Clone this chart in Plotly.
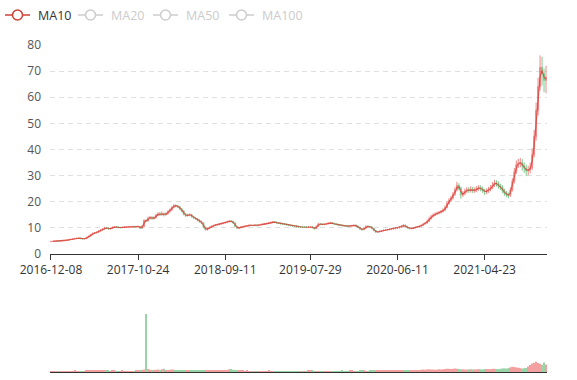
import plotly.graph_objects as go
import pandas as pd

W, H = 577, 380

# Weekly samples (about 5 trading days each)
close = [4.8, 4.9, 4.9, 5.0, 4.9, 5.0, 5.1, 5.1, 5.3, 5.5, 5.6, 5.8, 5.9, 6.0,
         6.1, 5.9, 5.8, 5.9, 6.4, 6.8,
         7.4, 7.9, 8.1, 8.3, 8.8, 9.2, 9.6, 10.0,
         9.9, 9.6, 9.8, 10.2, 10.4, 10.3, 10.1, 10.1, 10.2,
         10.3, 10.3, 10.4, 10.4, 10.5, 10.4, 10.5, 10.5, 9.9,
         10.6, 12.9, 12.6, 13.7, 14.0, 13.6, 13.9, 14.8, 15.4, 15.0, 15.5, 15.0, 15.4, 16.2, 16.8, 17.8, 18.6,
         18.4, 18.1, 17.3, 16.5, 15.2, 14.7, 14.9, 15.1, 14.3, 13.8, 13.5, 12.9, 12.4, 11.9, 10.2, 9.3, 9.8, 10.2,
         10.6, 10.9, 11.2, 11.3, 11.5, 11.7, 11.9, 12.1, 12.4, 12.6, 12.5, 11.9, 10.6, 9.9, 10.1, 10.4, 10.5, 10.7, 10.8, 11.0,
         11.0, 10.9, 11.1, 10.9, 11.1, 11.3, 11.4, 11.6, 11.7, 11.9, 12.1, 12.3, 12.1, 11.9, 11.8, 11.6, 11.5, 11.4, 11.2, 11.0, 10.9, 10.8, 10.7, 10.5, 10.4,
         10.4, 10.3, 10.3, 10.2, 10.4, 10.4, 10.1, 9.7, 10.6, 11.5, 11.4, 11.3, 11.4, 11.6, 11.8, 11.9, 11.7, 11.5, 11.3, 11.1,
         11.0, 10.9, 10.8, 10.7, 10.6, 10.8, 10.9, 11.0, 10.7, 10.2, 9.6, 9.3, 9.9, 10.6, 10.5, 10.4, 9.8, 9.0, 8.4, 8.5,
         8.7, 8.9, 9.1, 9.2, 9.3, 9.5, 9.6, 9.7, 9.9, 10.0, 10.3, 10.7, 11.0, 10.5, 10.0, 9.7, 9.8, 10.0, 10.2, 10.4, 10.6, 11.0, 11.5, 11.9,
         12.6, 13.6, 14.4, 14.9, 15.3, 15.6, 15.9, 16.3, 16.8, 17.8, 19.4, 20.5, 21.3, 22.8, 24.5, 26.3, 25.2, 22.6, 23.2, 24.0, 24.6,
         24.3, 24.8, 24.2, 24.5, 25.0, 25.4, 24.9, 24.3, 23.7, 24.2, 24.7, 25.4, 26.4, 27.3, 26.8, 26.0, 25.5, 24.2, 23.2, 22.6, 22.4, 24.5, 27.8, 31.5, 34.2,
         34.8, 35.0, 33.6, 32.8, 31.8, 32.2, 33.0, 38.0, 45.0, 55.0, 64.0, 71.5, 69.0, 66.4, 67.7]

open_ = [4.7, 4.8, 4.9, 4.9, 5.0, 4.9, 5.0, 5.1, 5.1, 5.3, 5.5, 5.6, 5.8, 5.9,
         6.0, 6.1, 5.9, 5.8, 5.9, 6.4,
         6.8, 7.4, 7.9, 8.1, 8.3, 8.8, 9.2, 9.6,
         10.0, 9.9, 9.6, 9.8, 10.2, 10.4, 10.3, 10.1, 10.1,
         10.2, 10.3, 10.3, 10.4, 10.4, 10.5, 10.4, 10.5, 10.5,
         9.9, 10.6, 12.9, 12.6, 13.7, 14.0, 13.6, 13.9, 14.8, 15.4, 15.0, 15.5, 15.0, 15.4, 16.2, 16.8, 17.8,
         18.6, 18.4, 18.1, 17.3, 16.5, 15.2, 14.7, 14.9, 15.1, 14.3, 13.8, 13.5, 12.9, 12.4, 11.9, 10.2, 9.3, 9.8,
         10.2, 10.6, 10.9, 11.2, 11.3, 11.5, 11.7, 11.9, 12.1, 12.4, 12.6, 12.5, 11.9, 10.6, 9.9, 10.1, 10.4, 10.5, 10.7, 10.8,
         11.0, 11.0, 10.9, 11.1, 10.9, 11.1, 11.3, 11.4, 11.6, 11.7, 11.9, 12.1, 12.3, 12.1, 11.9, 11.8, 11.6, 11.5, 11.4, 11.2, 11.0, 10.9, 10.8, 10.7, 10.5,
         10.4, 10.4, 10.3, 10.3, 10.2, 10.4, 10.4, 10.1, 9.7, 10.6, 11.5, 11.4, 11.3, 11.4, 11.6, 11.8, 11.9, 11.7, 11.5, 11.3,
         11.1, 11.0, 10.9, 10.8, 10.7, 10.6, 10.8, 10.9, 11.0, 10.7, 10.2, 9.6, 9.3, 9.9, 10.6, 10.5, 10.4, 9.8, 9.0, 8.4,
         8.5, 8.7, 8.9, 9.1, 9.2, 9.3, 9.5, 9.6, 9.7, 9.9, 10.0, 10.3, 10.7, 11.0, 10.5, 10.0, 9.7, 9.8, 10.0, 10.2, 10.4, 10.6, 11.0, 11.5,
         11.9, 12.6, 13.6, 14.4, 14.9, 15.3, 15.6, 15.9, 16.3, 16.8, 17.8, 19.4, 20.5, 21.3, 22.8, 24.5, 26.3, 25.2, 22.6, 23.2, 24.0,
         24.6, 24.3, 24.8, 24.2, 24.5, 25.0, 25.4, 24.9, 24.3, 23.7, 24.2, 24.7, 25.4, 26.4, 27.3, 26.8, 26.0, 25.5, 24.2, 23.2, 22.6, 22.4, 24.5, 27.8, 31.5,
         34.2, 34.8, 35.0, 33.6, 32.8, 31.8, 32.2, 33.0, 38.0, 45.0, 55.0, 64.0, 71.5, 69.0, 66.4]

high = [4.9, 5.0, 5.1, 5.1, 5.1, 5.2, 5.2, 5.3, 5.4, 5.7,
        5.8, 5.9, 6.1, 6.2, 6.3, 6.2, 6.0, 6.1, 6.6, 7.0,
        7.7, 8.2, 8.4, 8.6, 9.1, 9.5, 9.9, 10.4, 10.3, 10.1,
        10.1, 10.5, 10.7, 10.7, 10.6, 10.4, 10.5, 10.6, 10.6, 10.7,
        10.7, 10.8, 10.8, 10.8, 10.9, 10.7, 11.0, 13.2, 13.3, 14.3,
        14.6, 14.5, 14.4, 15.4, 16.0, 16.1, 16.3, 15.9, 15.9, 16.7,
        17.4, 18.3, 19.1, 19.0, 18.8, 18.4, 17.6, 16.8, 15.6, 15.4,
        15.5, 15.4, 14.6, 14.2, 13.8, 13.3, 12.8, 12.1, 10.5, 10.1,
        10.5, 10.9, 11.2, 11.5, 11.6, 11.8, 12.0, 12.2, 12.4, 12.7,
        12.9, 12.9, 12.7, 12.1, 10.8, 10.4, 10.7, 10.8, 11.0, 11.1,
        11.3, 11.3, 11.2, 11.4, 11.3, 11.4, 11.6, 11.7, 11.9, 12.0,
        12.2, 12.4, 12.6, 12.6, 12.4, 12.2, 12.1, 11.9, 11.8, 11.7,
        11.5, 11.3, 11.2, 11.1, 11.0, 10.8, 10.7, 10.7, 10.6, 10.6,
        10.7, 10.7, 10.7, 10.3, 10.9, 11.9, 11.8, 11.7, 11.7, 11.9,
        12.1, 12.3, 12.2, 12.0, 11.8, 11.6, 11.4, 11.3, 11.2, 11.1,
        11.0, 11.1, 11.2, 11.3, 11.3, 10.9, 10.4, 9.8, 10.2, 10.9,
        10.9, 10.8, 10.6, 10.0, 9.2, 8.8, 9.0, 9.2, 9.4, 9.5,
        9.6, 9.8, 9.9, 10.0, 10.2, 10.3, 10.6, 11.0, 11.4, 11.3,
        10.8, 10.2, 10.1, 10.3, 10.5, 10.7, 10.9, 11.3, 11.9, 12.3,
        13.2, 14.2, 15.0, 15.5, 15.9, 16.2, 16.5, 16.9, 17.5, 18.6,
        20.2, 21.4, 22.2, 23.7, 25.5, 27.6, 27.1, 25.8, 24.1, 25.0,
        25.6, 25.6, 25.9, 25.7, 25.5, 26.0, 26.4, 26.3, 25.8, 25.0,
        25.1, 25.7, 26.4, 27.5, 28.4, 28.2, 27.8, 26.9, 26.3, 25.0,
        24.1, 23.5, 25.5, 29.0, 32.9, 35.8, 36.4, 36.8, 36.3, 35.0,
        34.2, 33.8, 35.0, 40.5, 47.5, 58.0, 67.5, 76.0, 75.5, 71.0,
        72.0]

low = [4.6, 4.7, 4.8, 4.8, 4.8, 4.8, 4.9, 5.0, 5.0, 5.2,
       5.4, 5.5, 5.7, 5.8, 5.9, 5.7, 5.6, 5.7, 5.8, 6.3,
       6.7, 7.2, 7.7, 7.9, 8.1, 8.6, 9.0, 9.4, 9.6, 9.3,
       9.4, 9.6, 10.0, 10.0, 9.9, 9.8, 9.9, 10.0, 10.0, 10.1,
       10.1, 10.2, 10.1, 10.2, 10.2, 9.6, 9.7, 10.4, 12.2, 12.4,
       13.3, 13.1, 13.2, 13.6, 14.5, 14.6, 14.7, 14.4, 14.7, 15.1,
       15.9, 16.5, 17.5, 17.9, 17.6, 16.9, 16.0, 14.8, 14.2, 14.3,
       14.5, 13.9, 13.4, 13.1, 12.5, 12.0, 11.5, 9.9, 9.0, 9.0,
       9.5, 10.0, 10.4, 10.7, 10.9, 11.0, 11.2, 11.4, 11.6, 11.8,
       12.1, 12.1, 11.5, 10.3, 9.6, 9.6, 9.9, 10.1, 10.2, 10.4,
       10.5, 10.7, 10.6, 10.6, 10.6, 10.6, 10.9, 11.0, 11.1, 11.3,
       11.4, 11.6, 11.8, 11.8, 11.6, 11.5, 11.3, 11.2, 11.1, 10.9,
       10.7, 10.6, 10.5, 10.4, 10.2, 10.1, 10.1, 10.0, 10.0, 9.9,
       9.9, 10.1, 9.8, 9.4, 9.5, 10.4, 11.0, 11.0, 11.0, 11.1,
       11.3, 11.5, 11.4, 11.2, 11.0, 10.8, 10.7, 10.6, 10.5, 10.4,
       10.3, 10.3, 10.5, 10.6, 10.4, 9.9, 9.3, 9.0, 9.1, 9.7,
       10.2, 10.1, 9.5, 8.7, 8.1, 8.2, 8.3, 8.5, 8.7, 8.9,
       9.0, 9.1, 9.2, 9.3, 9.5, 9.6, 9.8, 10.1, 10.5, 10.2,
       9.7, 9.4, 9.5, 9.6, 9.8, 10.0, 10.2, 10.4, 10.8, 11.3,
       11.6, 12.3, 13.2, 14.0, 14.5, 14.9, 15.2, 15.5, 15.9, 16.4,
       17.4, 18.9, 19.9, 20.8, 22.2, 23.9, 24.4, 21.2, 21.8, 22.5,
       23.3, 23.4, 23.5, 23.3, 23.4, 23.7, 24.2, 24.0, 23.4, 22.6,
       22.9, 23.4, 24.0, 24.8, 25.7, 25.8, 25.0, 24.5, 23.3, 22.3,
       21.7, 21.3, 21.8, 23.9, 27.0, 30.6, 32.9, 33.2, 31.9, 31.1,
       29.8, 30.1, 30.8, 32.2, 37.0, 43.5, 53.0, 62.5, 64.5, 62.0,
       61.5]

volume = [0.8, 1.0, 0.9, 1.1, 0.9, 1.0, 1.2, 1.0,
          1.4, 1.6, 1.3, 1.5, 1.8, 1.4, 1.6, 1.3, 1.2, 1.5, 2.0, 2.2,
          2.6, 2.4, 3.0, 2.2, 2.0, 2.3, 1.9, 2.4, 2.1, 1.8, 1.7, 2.0, 1.9, 1.6, 1.5,
          1.7, 1.8, 1.6, 1.5, 1.7, 1.6, 1.4, 1.5, 1.8, 2.0,
          2.8, 3.6, 4.5, 100, 5.2, 4.0, 3.4, 3.0, 3.8, 4.4, 3.5, 4.8, 5.5, 3.6, 3.2, 3.8, 4.2, 3.9,
          3.5, 3.0, 2.8, 3.2, 3.6, 2.9, 2.5, 2.4, 2.6, 2.3, 2.1, 2.4, 2.6, 2.8, 3.4,
          3.1, 2.4, 2.2, 2.0, 1.9, 2.1, 2.2, 2.3, 2.5, 2.6, 3.0, 3.4, 4.6, 5.0, 3.8,
          3.2, 2.8, 2.2, 1.9, 1.8, 1.7, 1.8, 1.6, 1.7, 1.5, 1.6, 1.5, 1.6,
          1.5, 1.6, 1.4, 1.7, 1.8, 1.6, 1.5, 1.4, 1.3, 1.5,
          1.6, 1.4, 1.3, 1.2, 1.4, 1.5, 1.3, 1.2, 1.4, 1.3,
          1.5, 1.7, 1.6, 1.4, 1.8, 2.4, 2.0, 1.7, 1.6, 1.5,
          1.4, 1.6, 1.5, 1.3, 1.4, 1.6, 1.5, 1.4, 1.3, 1.4,
          1.6, 1.8, 1.5, 1.4, 1.6, 2.0, 2.2, 1.7, 1.5, 1.6,
          1.8, 2.0, 1.9, 1.6, 1.7, 2.1, 2.4, 2.0, 1.8, 1.9,
          2.0, 2.2, 2.1, 1.9, 2.0, 2.3, 2.6, 2.4, 2.2, 2.5, 2.8,
          3.0, 2.6, 2.9, 2.7, 2.4, 2.5, 2.8, 3.0, 3.2, 3.4, 3.8, 4.2, 4.0, 4.4, 4.8, 4.5, 4.2, 4.0, 4.3, 4.6,
          4.4, 4.8, 5.2, 5.6, 5.4, 5.0, 5.8, 6.2, 5.6, 5.0, 4.6, 4.8, 4.4, 4.2, 4.6,
          4.8, 4.5, 4.2, 4.4, 4.9, 4.6, 4.3, 4.8, 5.2, 5.0, 4.7, 5.3, 5.6, 5.2, 4.9,
          5.4, 6.0, 6.4, 5.8, 6.6, 7.8, 9.0, 8.6, 8.0, 7.4, 6.8, 6.2, 6.5, 7.0,
          9.5, 12.0, 14.5, 16.0, 17.5, 15.5, 14.0, 12.5, 16.5, 13.0]

tick_labels = ["2016-12-08", "2017-10-24", "2018-09-11", "2019-07-29", "2020-06-11", "2021-04-23"]
tick_index = [0, 44, 88, 131, 175, 219]

legend_names = ["MA10", "MA20", "MA50", "MA100"]

N = len(close)
assert len(open_) == N and len(high) == N and len(low) == N and len(volume) == N, \
    (len(open_), len(high), len(low), len(volume), N)

idx = list(range(N))
# MA10 ~ mean over the last 10 trading days (2 weekly samples)
ma10 = pd.Series(close).rolling(2).mean().round(3).tolist()

UP = "#eb5454"
DOWN = "#47b262"
vol_colors = [UP if c >= o else DOWN for o, c in zip(open_, close)]

fig = go.Figure()
fig.add_trace(go.Candlestick(
    x=idx, open=open_, high=high, low=low, close=close,
    increasing=dict(line=dict(color=UP, width=1), fillcolor=UP),
    decreasing=dict(line=dict(color=DOWN, width=1), fillcolor=DOWN),
    opacity=0.7, whiskerwidth=0, showlegend=False, hoverinfo="skip",
    xaxis="x", yaxis="y"))
fig.add_trace(go.Scatter(
    x=idx, y=ma10, mode="lines", line=dict(color="#d4473b", width=1.1),
    opacity=0.85, showlegend=False, xaxis="x", yaxis="y", hoverinfo="skip"))
fig.add_trace(go.Bar(
    x=idx, y=volume, marker=dict(color=vol_colors, line=dict(width=0)),
    opacity=0.55, showlegend=False, xaxis="x2", yaxis="y2", hoverinfo="skip"))

x0, x1 = 50 / W, 547 / W
font = "Open Sans, Noto Sans, sans-serif"

fig.update_layout(
    width=W, height=H, margin=dict(l=0, r=0, t=0, b=0, autoexpand=False),
    paper_bgcolor="white", plot_bgcolor="white",
    font=dict(family=font, size=12, color="#444"),
    bargap=0.25,
    xaxis=dict(domain=[x0, x1], range=[-0.5, N - 0.5], anchor="y", automargin=False,
               tickmode="array", tickvals=tick_index, ticktext=tick_labels,
               ticks="outside", ticklen=5, tickcolor="#333", showline=True,
               linecolor="#333", linewidth=1, showgrid=False, zeroline=False,
               rangeslider=dict(visible=False), tickfont=dict(size=12, color="#333")),
    yaxis=dict(domain=[(H - 254) / H, (H - 45) / H], range=[0, 80], dtick=10,
               automargin=False,
               showgrid=True, gridcolor="#e0e0e0", griddash="5px,4px", gridwidth=1,
               zeroline=False, showline=False, ticks="", ticklabelstandoff=8,
               tickfont=dict(size=12, color="#555"), anchor="x"),
    xaxis2=dict(domain=[x0, x1], range=[-0.5, N - 0.5], anchor="y2", automargin=False,
                showticklabels=False, ticks="", showline=True, linecolor="#333",
                linewidth=1, showgrid=False, zeroline=False),
    yaxis2=dict(domain=[(H - 372) / H, (H - 300) / H], range=[0, 124], automargin=False,
                showgrid=False, showticklabels=False, zeroline=False,
                showline=False, anchor="x2"),
)

# ECharts-style legend: line with hollow circle, MA10 active, the rest disabled
legend_icon_x = [5, 78, 153, 229]
legend_colors = ["#cf4236", "#cccccc", "#cccccc", "#cccccc"]
legend_text_colors = ["#333", "#cccccc", "#cccccc", "#cccccc"]
ly = 1 - 15 / H
for name, lx, col, tcol in zip(legend_names, legend_icon_x, legend_colors, legend_text_colors):
    fig.add_shape(type="line", xref="paper", yref="paper",
                  x0=lx / W, x1=(lx + 25) / W, y0=ly, y1=ly,
                  line=dict(color=col, width=1.5))
    cx, cy, r = lx + 12.5, 15, 5
    fig.add_shape(type="circle", xref="paper", yref="paper",
                  x0=(cx - r) / W, x1=(cx + r) / W, y0=1 - (cy + r) / H, y1=1 - (cy - r) / H,
                  line=dict(color=col, width=1.5), fillcolor="white")
    fig.add_annotation(text=name, xref="paper", yref="paper", x=(lx + 31) / W, y=ly,
                       xanchor="left", yanchor="middle", showarrow=False,
                       font=dict(size=12.5, color=tcol, family=font))

fig.write_html("out.html")
